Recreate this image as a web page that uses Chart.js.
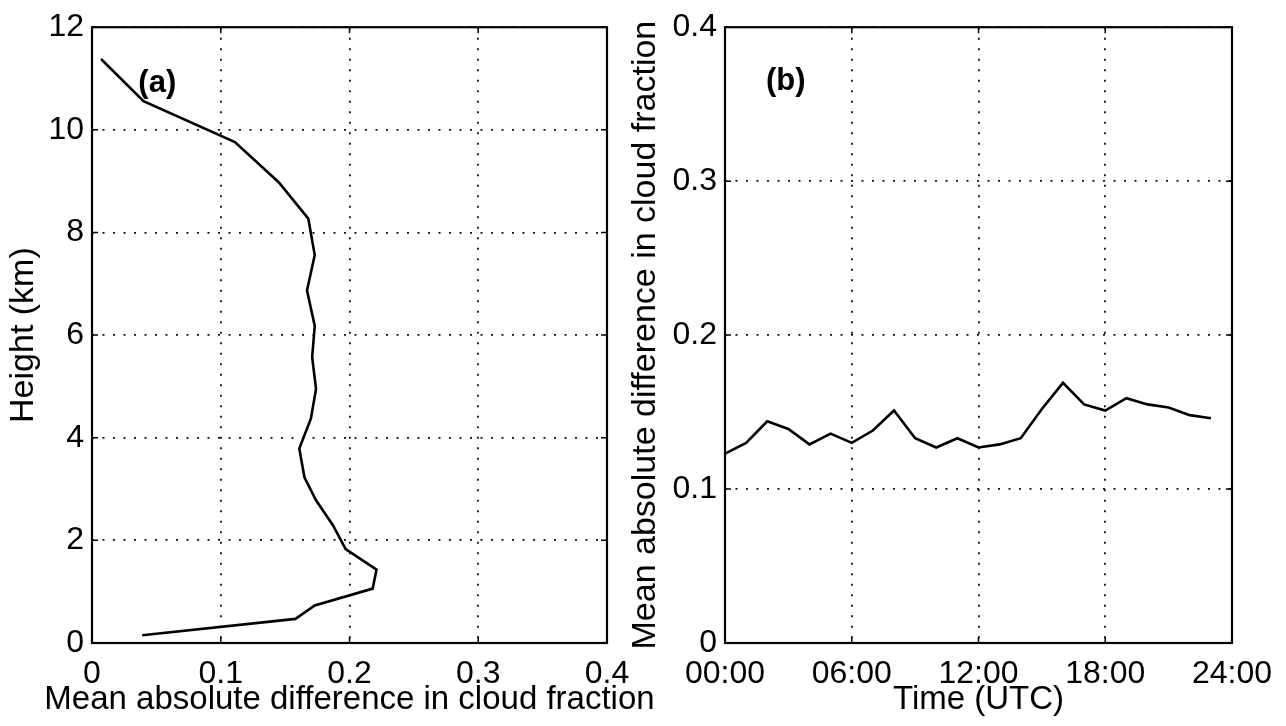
<!DOCTYPE html>
<html>
<head>
<meta charset="utf-8">
<script src="https://cdn.jsdelivr.net/npm/chart.js@4/dist/chart.umd.min.js"></script>
<style>
    body { margin: 0; background: #fff; width: 1286px; height: 726px; overflow: hidden; position: relative; }
    #leftBox { position: absolute; left: 0; top: 0; width: 660px; height: 726px; }
    #rightBox { position: absolute; left: 600px; top: 0; width: 686px; height: 726px; }
</style>
</head>
<body>
<div id="leftBox"><canvas id="profileChart"></canvas></div>
<div id="rightBox"><canvas id="diurnalChart"></canvas></div>
<script>
// (a) vertical profile
const profileHeight = [11.38, 10.56, 9.76, 8.98, 8.27, 7.56, 6.87, 6.18, 5.57, 4.95, 4.37,
    3.79, 3.23, 2.78, 2.30, 1.83, 1.43, 1.06, 0.73, 0.47, 0.15];
const profileDiff = [0.007, 0.040, 0.111, 0.145, 0.168, 0.173, 0.167, 0.173, 0.171, 0.174, 0.170,
    0.161, 0.165, 0.174, 0.187, 0.197, 0.221, 0.218, 0.173, 0.158, 0.039];

// (b) diurnal cycle, hourly
const hours = [0, 1, 2, 3, 4, 5, 6, 7, 8, 9, 10, 11, 12, 13, 14, 15, 16, 17, 18, 19, 20, 21, 22, 23];
const hourlyDiff = [0.123, 0.130, 0.144, 0.139, 0.129, 0.136, 0.130, 0.138, 0.151, 0.133, 0.127, 0.133,
    0.127, 0.129, 0.133, 0.152, 0.169, 0.155, 0.151, 0.159, 0.155, 0.153, 0.148, 0.146];
const timeLabels = ['00:00', '06:00', '12:00', '18:00', '24:00'];

const FONT = '"Liberation Sans", Arial, Helvetica, sans-serif';
Chart.defaults.font.family = FONT;
Chart.defaults.color = '#000';

// box round the plot, small inward ticks (matlab style), panel tag and x label
// (x label drawn here because it is wider than the axis and chart.js squeezes it)
const framePlugin = {
    id: 'frame',
    afterDraw(chart, args, opts) {
        const { ctx, chartArea: a, scales } = chart;
        ctx.save();
        ctx.strokeStyle = '#000';
        ctx.lineWidth = 1.5;
        ctx.beginPath();
        scales.x.ticks.forEach(t => {
            const px = scales.x.getPixelForValue(t.value);
            ctx.moveTo(px, a.bottom); ctx.lineTo(px, a.bottom - 6);
            ctx.moveTo(px, a.top); ctx.lineTo(px, a.top + 6);
        });
        scales.y.ticks.forEach(t => {
            const py = scales.y.getPixelForValue(t.value);
            ctx.moveTo(a.left, py); ctx.lineTo(a.left + 6, py);
            ctx.moveTo(a.right, py); ctx.lineTo(a.right - 6, py);
        });
        ctx.stroke();
        ctx.lineWidth = 2.2;
        ctx.strokeRect(a.left, a.top, a.right - a.left, a.bottom - a.top);

        ctx.fillStyle = '#000';
        ctx.font = 'bold 31px ' + FONT;
        ctx.textBaseline = 'middle';
        ctx.textAlign = 'left';
        ctx.fillText(opts.text, scales.x.getPixelForValue(opts.x), scales.y.getPixelForValue(opts.y));

        ctx.font = '33px ' + FONT;
        ctx.textAlign = 'center';
        ctx.fillText(opts.xTitle, (a.left + a.right) / 2, a.bottom + 57);
        ctx.restore();
    }
};

const gridStyle = { color: '#111', lineWidth: 1.8, drawTicks: false };
const borderStyle = { display: false, dash: [2, 8.5] };

function fixSize(prop, size) {
    return scale => { scale[prop] = size; };
}

const profileCtx = document.querySelector('#profileChart').getContext('2d');
new Chart(profileCtx, {
    type: 'scatter',
    data: {
        datasets: [{
            data: profileHeight.map((h, i) => ({ x: profileDiff[i], y: h })),
            showLine: true,
            borderColor: '#000',
            borderWidth: 2.6,
            pointRadius: 0,
            tension: 0
        }]
    },
    options: {
        responsive: true,
        maintainAspectRatio: false,
        animation: false,
        layout: { padding: { top: 22, right: 53, left: 0, bottom: 0 } },
        plugins: {
            legend: { display: false },
            tooltip: { enabled: false },
            frame: { text: '(a)', x: 0.036, y: 10.9, xTitle: 'Mean absolute difference in cloud fraction' }
        },
        scales: {
            x: {
                type: 'linear', min: 0, max: 0.4,
                afterFit: fixSize('height', 83),
                grid: gridStyle, border: borderStyle,
                ticks: { stepSize: 0.1, padding: 12, font: { size: 32 }, maxRotation: 0 }
            },
            y: {
                type: 'linear', min: 0, max: 12,
                afterFit: fixSize('width', 92),
                grid: gridStyle, border: borderStyle,
                ticks: { stepSize: 2, padding: 8, font: { size: 32 } },
                title: { display: true, text: 'Height (km)', font: { size: 34 }, padding: { top: 3, bottom: 0 } }
            }
        }
    },
    plugins: [framePlugin]
});

const diurnalCtx = document.querySelector('#diurnalChart').getContext('2d');
new Chart(diurnalCtx, {
    type: 'scatter',
    data: {
        datasets: [{
            data: hours.map((h, i) => ({ x: h, y: hourlyDiff[i] })),
            showLine: true,
            borderColor: '#000',
            borderWidth: 2.6,
            pointRadius: 0,
            tension: 0
        }]
    },
    options: {
        responsive: true,
        maintainAspectRatio: false,
        animation: false,
        layout: { padding: { top: 22, right: 54, left: 0, bottom: 0 } },
        plugins: {
            legend: { display: false },
            tooltip: { enabled: false },
            frame: { text: '(b)', x: 1.94, y: 0.365, xTitle: 'Time (UTC)' }
        },
        scales: {
            x: {
                type: 'linear', min: 0, max: 24,
                afterFit: fixSize('height', 83),
                grid: gridStyle, border: borderStyle,
                ticks: { stepSize: 6, padding: 12, font: { size: 32 }, maxRotation: 0,
                    callback: (value, index) => timeLabels[index] }
            },
            y: {
                type: 'linear', min: 0, max: 0.4,
                afterFit: fixSize('width', 125),
                grid: gridStyle, border: borderStyle,
                ticks: { stepSize: 0.1, padding: 8, font: { size: 32 } },
                title: { display: true, text: 'Mean absolute difference in cloud fraction',
                    font: { size: 34 }, padding: { top: 25, bottom: 0 } }
            }
        }
    },
    plugins: [framePlugin]
});
</script>
</body>
</html>
